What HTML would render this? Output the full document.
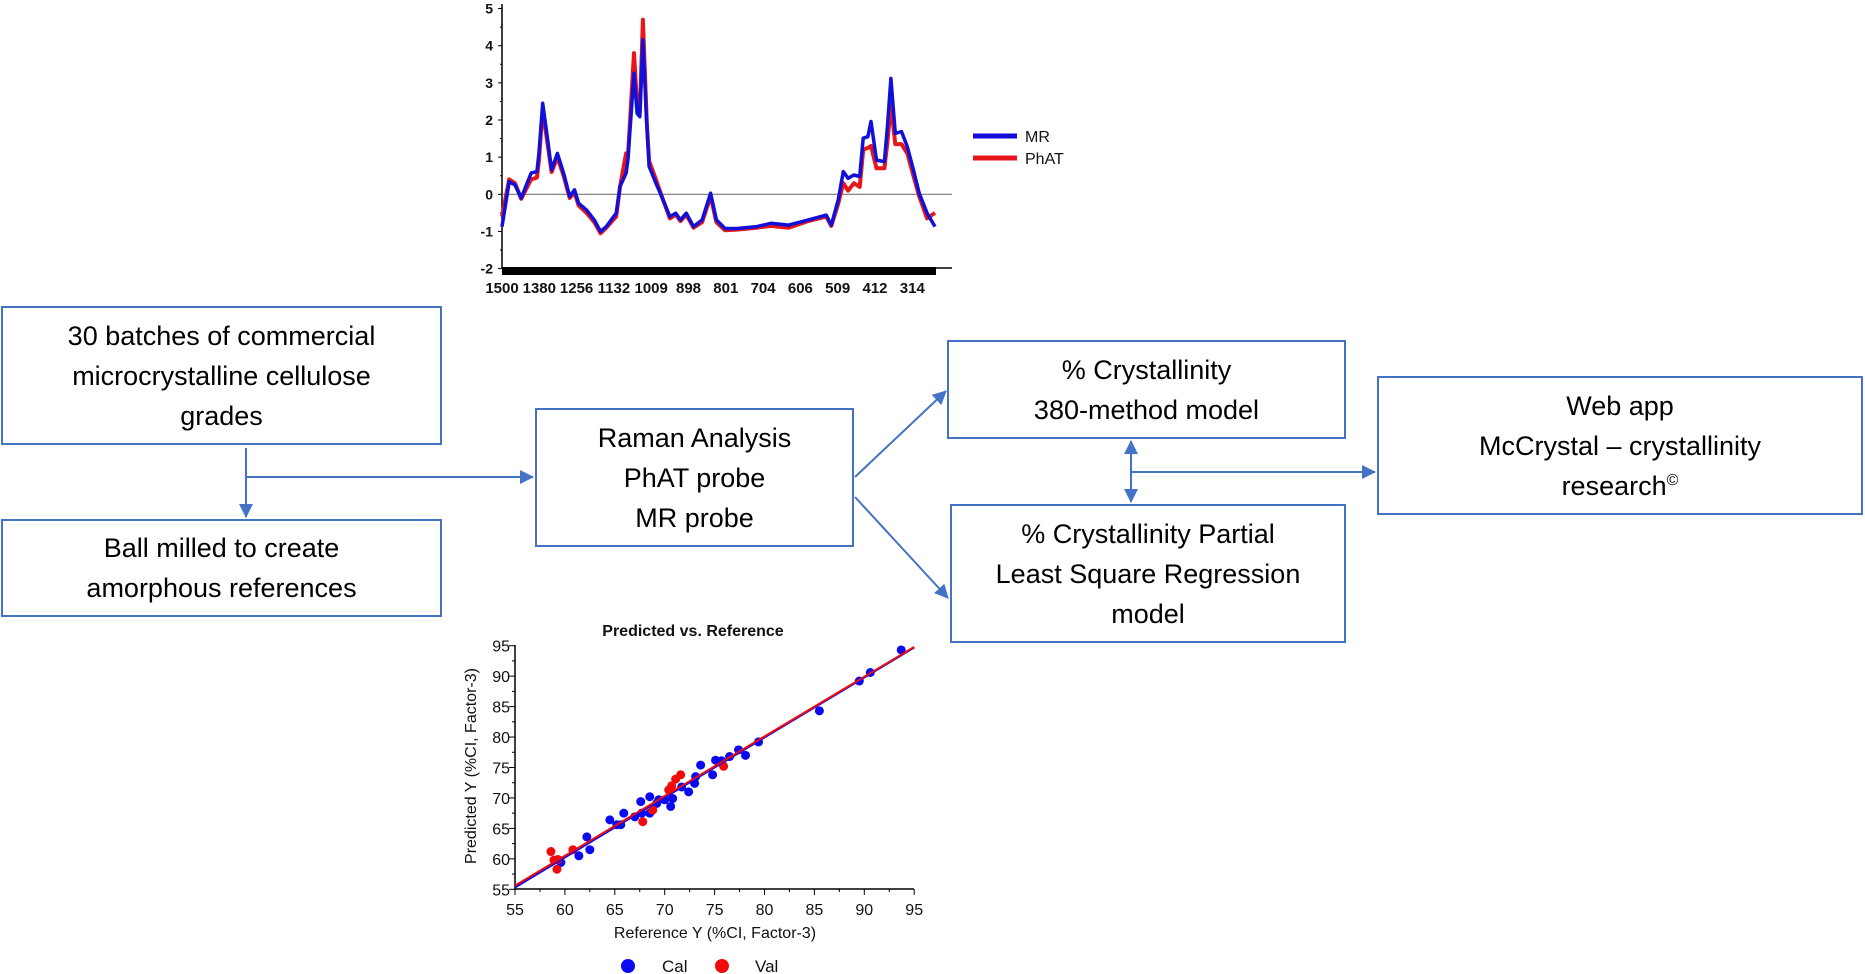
<!DOCTYPE html>
<html><head><meta charset="utf-8"><style>
body{margin:0;background:#fff;width:1865px;height:974px;overflow:hidden;position:relative;font-family:"Liberation Sans",sans-serif}
.box{position:absolute;border:2px solid #4472c4;box-sizing:border-box;display:flex;align-items:center;justify-content:center;text-align:center;font-size:27px;line-height:40px;color:#000}
svg{position:absolute;left:0;top:0}
</style></head><body>
<div class="box" style="left:1px;top:306px;width:441px;height:139px"><span>30 batches of commercial<br>microcrystalline cellulose<br>grades</span></div>
<div class="box" style="left:1px;top:519px;width:441px;height:98px"><span>Ball milled to create<br>amorphous references</span></div>
<div class="box" style="left:535px;top:408px;width:319px;height:139px"><span>Raman Analysis<br>PhAT probe<br>MR probe</span></div>
<div class="box" style="left:947px;top:340px;width:399px;height:99px"><span>% Crystallinity<br>380-method model</span></div>
<div class="box" style="left:950px;top:504px;width:396px;height:139px"><span>% Crystallinity Partial<br>Least Square Regression<br>model</span></div>
<div class="box" style="left:1377px;top:376px;width:486px;height:139px"><span>Web app<br>McCrystal – crystallinity<br>research<sup style="font-size:16px;line-height:0">©</sup></span></div>

<svg width="1865" height="974">
<defs><marker id="ah2" markerWidth="14" markerHeight="14" refX="13" refY="7" orient="auto" markerUnits="userSpaceOnUse"><path d="M0,0 L14,7 L0,14 Z" fill="#4472c4"/></marker></defs>
<g stroke="#4472c4" stroke-width="2" fill="none">
<line x1="246" y1="448" x2="246" y2="517" marker-end="url(#ah2)"/>
<line x1="246" y1="477" x2="533" y2="477" marker-end="url(#ah2)"/>
<line x1="855" y1="477" x2="946" y2="391" marker-end="url(#ah2)"/>
<line x1="855" y1="497" x2="948" y2="598" marker-end="url(#ah2)"/>
<line x1="1131" y1="472" x2="1131" y2="441" marker-end="url(#ah2)"/>
<line x1="1131" y1="472" x2="1131" y2="502" marker-end="url(#ah2)"/>
<line x1="1131" y1="472" x2="1375" y2="472" marker-end="url(#ah2)"/>
</g>
<g id="spec"></g>
<g id="scat"></g>
</svg>
<script>
const NS="http://www.w3.org/2000/svg";
function mk(p,t,a){const e=document.createElementNS(NS,t);for(const k in a)e.setAttribute(k,a[k]);p.appendChild(e);return e;}
// ---- spectrum data ----
const specTickLabels=["1500","1380","1256","1132","1009","898","801","704","606","509","412","314"];
const specYTicks=[5,4,3,2,1,0,-1,-2];
const specPos=[0,.21,.38,.56,.85,1.02,1.08,1.19,1.31,1.45,1.62,1.8,1.98,2.12,2.24,2.47,2.7,2.88,3.05,3.34,3.45,3.63,3.68,3.86,3.95,4.03,4.12,4.23,4.3,4.5,4.67,4.91,5.08,5.22,5.39,5.6,5.85,6.1,6.27,6.52,6.87,7.45,7.86,8.38,8.96,9.48,9.63,9.83,9.98,10.12,10.29,10.46,10.56,10.7,10.79,10.95,11.18,11.27,11.37,11.5,11.68,11.85,12.03,12.2,12.43,12.66];
const mrVals=[-.87,.34,.25,-.1,.57,.61,1.1,2.45,1.64,.66,1.1,.57,-.06,.12,-.24,-.42,-.69,-1.0,-.87,-.51,.21,.57,.92,3.26,2.18,2.09,4.16,1.91,.75,.3,-.06,-.6,-.51,-.69,-.51,-.87,-.69,.03,-.69,-.92,-.92,-.87,-.78,-.83,-.69,-.56,-.83,-.15,.61,.43,.52,.48,1.51,1.55,1.96,.92,.88,1.82,3.12,1.64,1.69,1.28,.66,.03,-.51,-.87];
const phatVals=[-.6,.4,.3,-.12,.4,.45,.9,2.3,1.5,.6,1.0,.5,-.1,.05,-.3,-.5,-.75,-1.05,-.9,-.6,.2,1.1,1.0,3.8,2.4,2.2,4.7,2.0,.9,.4,-.05,-.65,-.55,-.72,-.55,-.9,-.75,-.05,-.75,-.97,-.95,-.9,-.85,-.9,-.72,-.6,-.85,-.25,.3,.1,.3,.2,1.2,1.25,1.3,.7,.7,1.4,2.4,1.35,1.35,1.1,.5,-.05,-.65,-.5];
const sg=document.getElementById('spec');
const sx=p=>502+p*34.2, sy=v=>194.3-v*37.15, lx=i=>502+i*37.3;
mk(sg,'line',{x1:502,y1:4,x2:502,y2:269,stroke:'#000','stroke-width':1.5});
specYTicks.forEach(v=>{
 const t=mk(sg,'text',{x:493,y:sy(v)+5,'text-anchor':'end','font-size':14,'font-weight':'bold',fill:'#111'});t.textContent=v;
 
 
 mk(sg,'line',{x1:498,y1:sy(v),x2:502,y2:sy(v),stroke:'#000'});
 if(v>-2) mk(sg,'line',{x1:500,y1:sy(v-.5),x2:502,y2:sy(v-.5),stroke:'#000'});
});
mk(sg,'line',{x1:502,y1:sy(0),x2:952,y2:sy(0),stroke:'#777','stroke-width':1.2});
mk(sg,'rect',{x:502,y:267,width:434,height:8,fill:'#000'});
mk(sg,'line',{x1:502,y1:268,x2:952,y2:268,stroke:'#000','stroke-width':1.5});
specTickLabels.forEach((l,i)=>{const t=mk(sg,'text',{x:lx(i),y:293,'text-anchor':'middle','font-size':15,'font-weight':'bold',fill:'#111'});t.textContent=l;
 
 });
function trace(vals,col,w,name){const d=specPos.map((p,i)=>(i?'L':'M')+sx(p).toFixed(1)+','+sy(vals[i]).toFixed(1)).join('');
 const e=mk(sg,'path',{d:d,fill:'none',stroke:col,'stroke-width':w,'stroke-linejoin':'round'});
 
 }
trace(phatVals,'#e8161b',4,'phat-series');
trace(mrVals,'#1010d8',3.5,'mr-series');
[['MR','#1010d8',136],['PhAT','#e8161b',158]].forEach(l=>{
 const g=mk(sg,'g',{});
 
 
 mk(g,'line',{x1:973,y1:l[2],x2:1017,y2:l[2],stroke:l[1],'stroke-width':5});
 const t=mk(g,'text',{x:1025,y:l[2]+6,'font-size':16,fill:'#111'});t.textContent=l[0];});
// ---- scatter data ----
const axisTicks=[55,60,65,70,75,80,85,90,95];
const calRef=[59.6,61.4,62.2,62.5,64.5,65.2,65.6,65.9,67.0,67.6,67.7,68.5,68.5,69.2,69.4,70.0,70.6,70.8,71.7,72.4,73.0,73.1,73.6,74.8,75.1,75.7,76.5,77.4,78.1,79.4,85.5,89.5,90.6,93.7];
const calPred=[59.4,60.5,63.6,61.5,66.4,65.6,65.6,67.5,66.9,69.4,67.5,70.2,67.5,69.1,69.7,69.7,68.6,69.9,71.8,71.0,72.4,73.5,75.4,73.8,76.2,76.1,76.8,77.9,77.0,79.2,84.3,89.2,90.6,94.3];
const valRef=[58.6,58.9,59.3,59.2,60.8,67.8,68.8,70.4,70.7,71.1,71.6,75.9];
const valPred=[61.2,59.8,59.9,58.3,61.5,66.1,68.0,71.3,72.0,73.1,73.8,75.2];
const calFit=[55.3,94.7], valFit=[55.6,94.8];
const cg=document.getElementById('scat');
const X=v=>515+(v-55)*9.98, Y=v=>889.3-(v-55)*6.09;
mk(cg,'line',{x1:515,y1:645,x2:515,y2:889,stroke:'#000','stroke-width':1.5});
mk(cg,'line',{x1:515,y1:889,x2:914,y2:889,stroke:'#000','stroke-width':1.5});
axisTicks.forEach(v=>{
 mk(cg,'line',{x1:X(v),y1:889,x2:X(v),y2:895,stroke:'#000'});
 mk(cg,'line',{x1:509,y1:Y(v),x2:515,y2:Y(v),stroke:'#000'});
 if(v<95){
 mk(cg,'line',{x1:X(v+2.5),y1:889,x2:X(v+2.5),y2:892,stroke:'#000'});
 mk(cg,'line',{x1:512,y1:Y(v+2.5),x2:515,y2:Y(v+2.5),stroke:'#000'});}
 let t=mk(cg,'text',{x:X(v),y:915,'text-anchor':'middle','font-size':16,fill:'#111'});t.textContent=v;
 
 
 t=mk(cg,'text',{x:510,y:Y(v)+6,'text-anchor':'end','font-size':16,fill:'#111'});t.textContent=v;
 
 
});
calRef.forEach((r,i)=>{const c=mk(cg,'circle',{cx:X(r),cy:Y(calPred[i]),r:4.5,fill:'#0a0af0'});
 
 });
valRef.forEach((r,i)=>{const c=mk(cg,'circle',{cx:X(r),cy:Y(valPred[i]),r:4.5,fill:'#f00a0a'});
 
 });
let ln=mk(cg,'line',{x1:X(55),y1:Y(calFit[0]),x2:X(95),y2:Y(calFit[1]),stroke:'#0a0af0','stroke-width':2});


ln=mk(cg,'line',{x1:X(55),y1:Y(valFit[0]),x2:X(95),y2:Y(valFit[1]),stroke:'#f00a0a','stroke-width':2});


let t=mk(cg,'text',{x:693,y:636,'text-anchor':'middle','font-size':16,'font-weight':'bold',fill:'#111'});t.textContent='Predicted vs. Reference';


t=mk(cg,'text',{x:715,y:938,'text-anchor':'middle','font-size':16,fill:'#111'});t.textContent='Reference Y (%CI, Factor-3)';


t=mk(cg,'text',{x:476,y:766,'text-anchor':'middle','font-size':16,fill:'#111',transform:'rotate(-90 476 766)'});t.textContent='Predicted Y (%CI, Factor-3)';


[['Cal','#0a0af0',628,662],['Val','#f00a0a',722,755]].forEach(l=>{
 const g=mk(cg,'g',{});
 
 
 mk(g,'circle',{cx:l[2],cy:966,r:7,fill:l[1]});
 const tt=mk(g,'text',{x:l[3],y:972,'font-size':17,fill:'#111'});tt.textContent=l[0];});
</script>
</body></html>
